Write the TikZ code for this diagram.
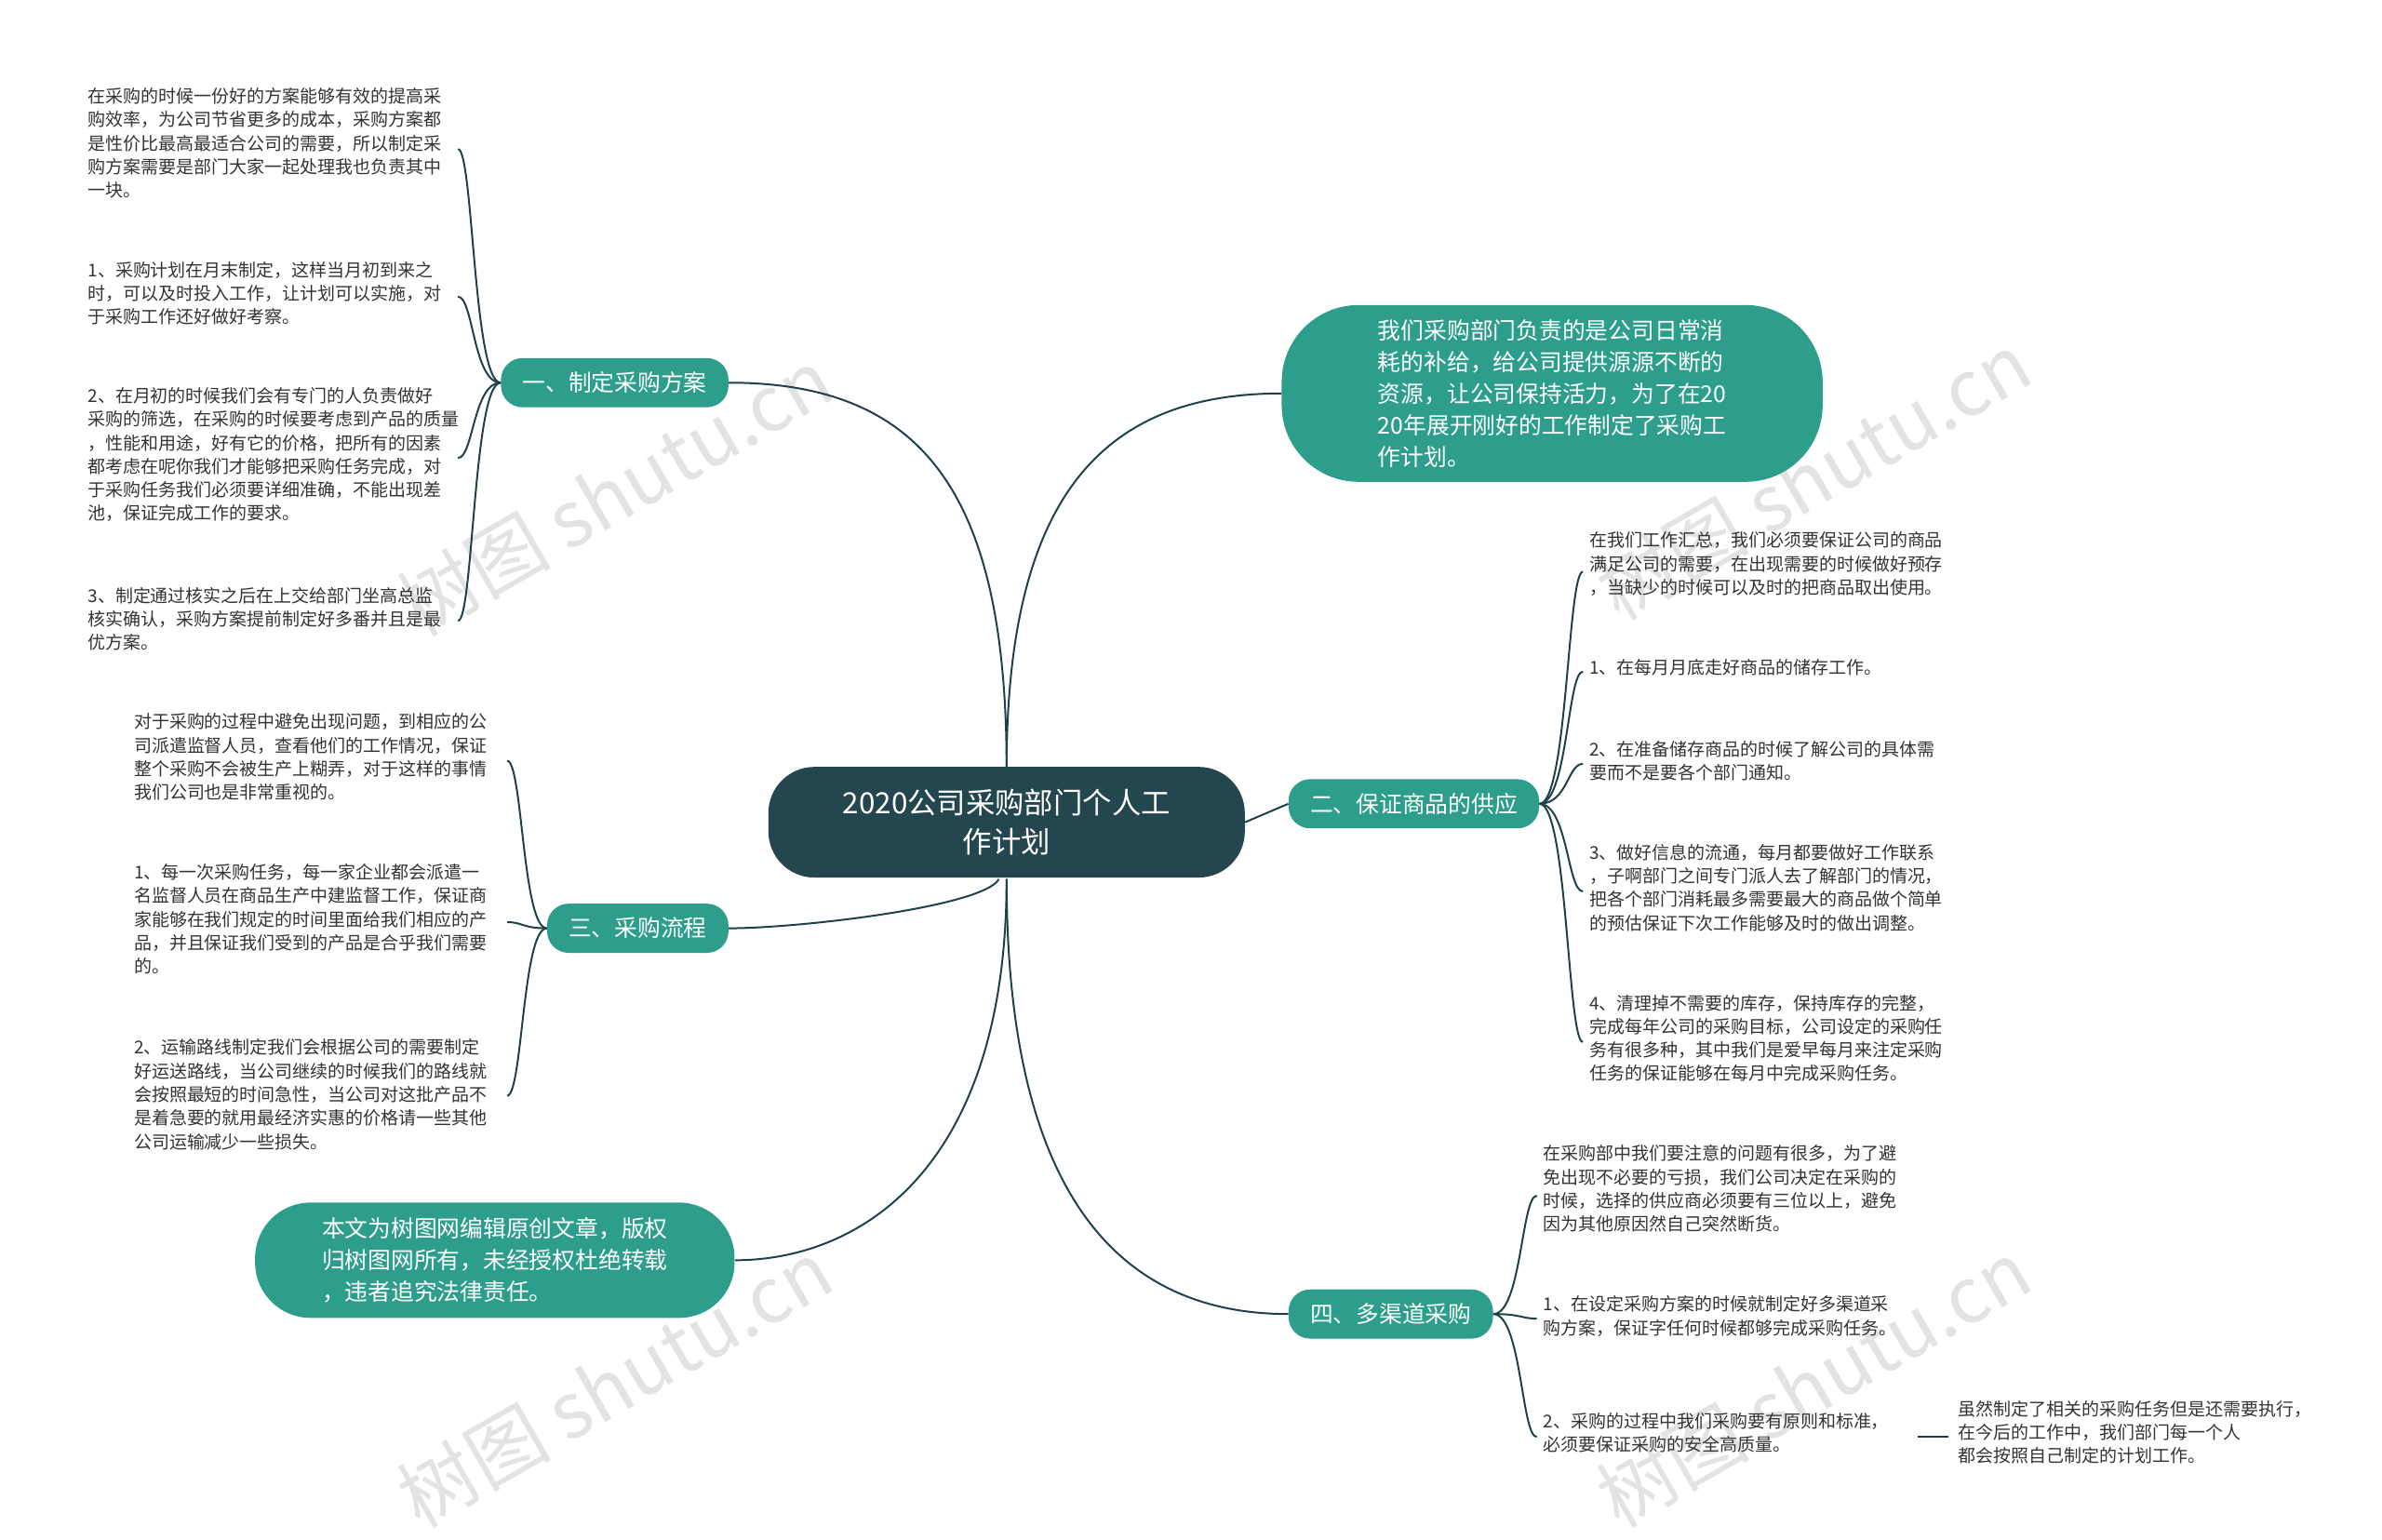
\documentclass[tikz,border=0pt]{standalone}
\usepackage{fontspec}
\setmainfont{Noto Sans CJK SC}
\definecolor{teal1}{HTML}{2E9E8C}
\definecolor{dark1}{HTML}{24464F}
\definecolor{line1}{HTML}{1E4048}
\definecolor{txt}{HTML}{333333}
\tikzset{
 leaf/.style={anchor=north west,inner sep=0pt,align=left,text=txt,font=\fontsize{11.5pt}{15.3pt}\selectfont},
 br/.style={fill=teal1,text=white,rounded corners=14pt,minimum height=32pt,inner xsep=14pt,font=\fontsize{15pt}{18pt}\selectfont},
 big/.style={fill=teal1,text=white,align=left,font=\fontsize{15pt}{20.5pt}\selectfont},
 con/.style={draw=line1,line width=1.2pt},
 wm/.style={text=gray!22,rotate=30,font=\fontsize{50pt}{50pt}\selectfont}
}
\begin{document}
\begin{tikzpicture}[x=1pt,y=-1pt]
\useasboundingbox[fill=white] (0,0) rectangle (1550,1002);
\node[wm] at (400,320) {树图 shutu.cn};
\node[wm] at (1180,310) {树图 shutu.cn};
\node[wm] at (400,900) {树图 shutu.cn};
\node[wm] at (1180,900) {树图 shutu.cn};

\node[fill=dark1,text=white,rounded corners=30pt,minimum width=310pt,minimum height=72pt,align=center,font=\fontsize{19pt}{25pt}\selectfont] (c) at (655,535) {2020公司采购部门个人工\\作计划};

\node[br] (b1) at (400,249) {一、制定采购方案};
\node[br] (b3) at (415,604) {三、采购流程};
\node[br] (b2) at (920,523) {二、保证商品的供应};
\node[br] (b4) at (905,855) {四、多渠道采购};
\node[big,rounded corners=50pt,minimum width=352pt,minimum height=115pt,inner xsep=20pt] (intro) at (1010,256) {我们采购部门负责的是公司日常消\\耗的补给，给公司提供源源不断的\\资源，让公司保持活力，为了在20\\20年展开刚好的工作制定了采购工\\作计划。};
\node[big,rounded corners=36pt,minimum width=312pt,minimum height=75pt,inner xsep=20pt] (note) at (322,820) {本文为树图网编辑原创文章，版权\\归树图网所有，未经授权杜绝转载\\，违者追究法律责任。};

\draw[con] (655,500) .. controls (655,320) and (600,249) .. (b1.east);
\draw[con] (655,500) .. controls (655,320) and (720,256) .. (intro.west);
\draw[con] (c.east) -- (b2.west);
\draw[con] (650,572) .. controls (640,590) and (520,604) .. (b3.east);
\draw[con] (655,572) .. controls (655,760) and (560,820) .. (note.east);
\draw[con] (655,572) .. controls (655,780) and (730,855) .. (b4.west);

\node[leaf] (l1) at (57,57) {在采购的时候一份好的方案能够有效的提高采\\购效率，为公司节省更多的成本，采购方案都\\是性价比最高最适合公司的需要，所以制定采\\购方案需要是部门大家一起处理我也负责其中\\一块。};
\node[leaf] (l2) at (57,170) {1、采购计划在月末制定，这样当月初到来之\\时，可以及时投入工作，让计划可以实施，对\\于采购工作还好做好考察。};
\node[leaf] (l3) at (57,252) {2、在月初的时候我们会有专门的人负责做好\\采购的筛选，在采购的时候要考虑到产品的质量\\，性能和用途，好有它的价格，把所有的因素\\都考虑在呢你我们才能够把采购任务完成，对\\于采购任务我们必须要详细准确，不能出现差\\池，保证完成工作的要求。};
\node[leaf] (l4) at (57,382) {3、制定通过核实之后在上交给部门坐高总监\\核实确认，采购方案提前制定好多番并且是最\\优方案。};
\foreach \y in {97,193,298,404}
  \draw[con] (b1.west) .. controls (308,249) and (308,\y) .. (298,\y);

\node[leaf] (m1) at (87,464) {对于采购的过程中避免出现问题，到相应的公\\司派遣监督人员，查看他们的工作情况，保证\\整个采购不会被生产上糊弄，对于这样的事情\\我们公司也是非常重视的。};
\node[leaf] (m2) at (87,562) {1、每一次采购任务，每一家企业都会派遣一\\名监督人员在商品生产中建监督工作，保证商\\家能够在我们规定的时间里面给我们相应的产\\品，并且保证我们受到的产品是合乎我们需要\\的。};
\node[leaf] (m3) at (87,676) {2、运输路线制定我们会根据公司的需要制定\\好运送路线，当公司继续的时候我们的路线就\\会按照最短的时间急性，当公司对这批产品不\\是着急要的就用最经济实惠的价格请一些其他\\公司运输减少一些损失。};
\foreach \y in {495,600,713}
  \draw[con] (b3.west) .. controls (340,604) and (340,\y) .. (330,\y);

\node[leaf] (r1) at (1034,346) {在我们工作汇总，我们必须要保证公司的商品\\满足公司的需要，在出现需要的时候做好预存\\，当缺少的时候可以及时的把商品取出使用。};
\node[leaf] (r2) at (1034,429) {1、在每月月底走好商品的储存工作。};
\node[leaf] (r3) at (1034,482) {2、在准备储存商品的时候了解公司的具体需\\要而不是要各个部门通知。};
\node[leaf] (r4) at (1034,549) {3、做好信息的流通，每月都要做好工作联系\\，子啊部门之间专门派人去了解部门的情况，\\把各个部门消耗最多需要最大的商品做个简单\\的预估保证下次工作能够及时的做出调整。};
\node[leaf] (r5) at (1034,647) {4、清理掉不需要的库存，保持库存的完整，\\完成每年公司的采购目标，公司设定的采购任\\务有很多种，其中我们是爱早每月来注定采购\\任务的保证能够在每月中完成采购任务。};
\foreach \y in {372,437,497,580,678}
  \draw[con] (b2.east) .. controls (1020,523) and (1020,\y) .. (1030,\y);

\node[leaf] (s1) at (1004,745) {在采购部中我们要注意的问题有很多，为了避\\免出现不必要的亏损，我们公司决定在采购的\\时候，选择的供应商必须要有三位以上，避免\\因为其他原因然自己突然断货。};
\node[leaf] (s2) at (1004,843) {1、在设定采购方案的时候就制定好多渠道采\\购方案，保证字任何时候都够完成采购任务。};
\node[leaf] (s3) at (1004,919) {2、采购的过程中我们采购要有原则和标准，\\必须要保证采购的安全高质量。};
\node[leaf] (s3c) at (1274,911) {虽然制定了相关的采购任务但是还需要执行，\\在今后的工作中，我们部门每一个人\\都会按照自己制定的计划工作。};
\foreach \y in {778,858,935}
  \draw[con] (b4.east) .. controls (990,855) and (990,\y) .. (1000,\y);
\draw[con] (1248,935) -- (1268,935);
\end{tikzpicture}
\end{document}
